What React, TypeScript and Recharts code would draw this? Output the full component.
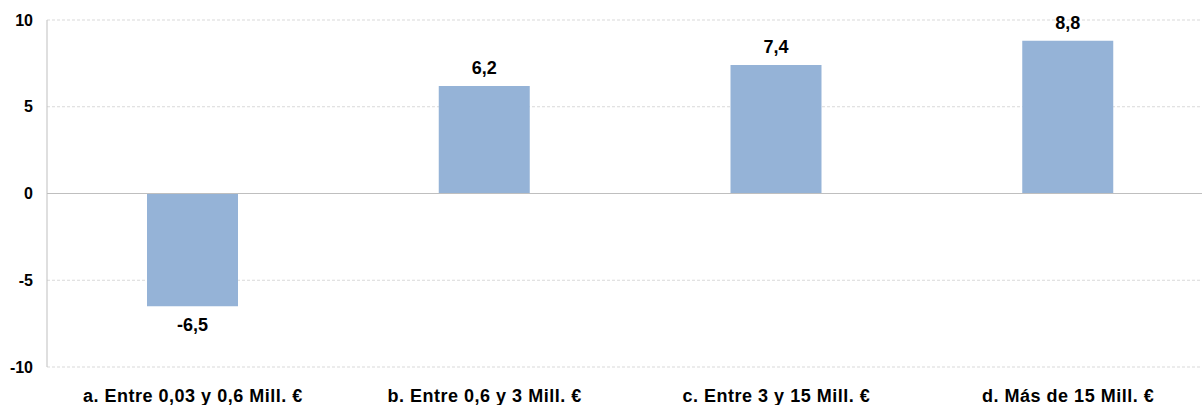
import { BarChart, Bar, XAxis, YAxis, CartesianGrid, ReferenceLine, LabelList } from 'recharts';

const categories = [
  'a. Entre 0,03 y 0,6 Mill. €',
  'b. Entre 0,6 y 3 Mill. €',
  'c. Entre 3 y 15 Mill. €',
  'd. Más de 15 Mill. €',
];
const values = [-6.5, 6.2, 7.4, 8.8];
const yTicks = [-10, -5, 0, 5, 10];

const data = categories.map((name, i) => ({ name, value: values[i] }));

const font = '"Liberation Sans", Arial, sans-serif';
const fmt = (v: any) => Number(v).toFixed(1).replace('.', ',');

export default function App() {
  return (
    <div style={{ position: 'fixed', left: 0, top: 0, width: 1202, height: 405, overflow: 'hidden', background: '#fff' }}>
      <BarChart
        width={1214}
        height={405}
        data={data}
        margin={{ top: 20, right: 0, left: 0, bottom: 0 }}
        style={{ fontFamily: font }}
      >
        <CartesianGrid vertical={false} stroke="#D9D9D9" strokeDasharray="3 2" />
        <YAxis
          width={47}
          domain={[-10, 10]}
          ticks={yTicks}
          interval={0}
          axisLine={{ stroke: '#BFBFBF' }}
          tickLine={false}
          tickSize={0}
          tickMargin={14}
          tick={{ fill: '#000', fontSize: 16, fontWeight: 'bold' }}
        />
        <XAxis
          dataKey="name"
          height={38}
          axisLine={false}
          tickLine={false}
          tickSize={0}
          tickMargin={22}
          interval={0}
          tick={{ fill: '#000', fontSize: 18, fontWeight: 'bold', letterSpacing: 0.5 }}
        />
        <ReferenceLine y={0} stroke="#BFBFBF" />
        <Bar dataKey="value" fill="#95B3D7" barSize={91} isAnimationActive={false}>
          <LabelList
            dataKey="value"
            position="top"
            offset={12}
            formatter={fmt}
            style={{ fill: '#000', fontSize: 18, fontWeight: 'bold' }}
          />
        </Bar>
      </BarChart>
    </div>
  );
}
